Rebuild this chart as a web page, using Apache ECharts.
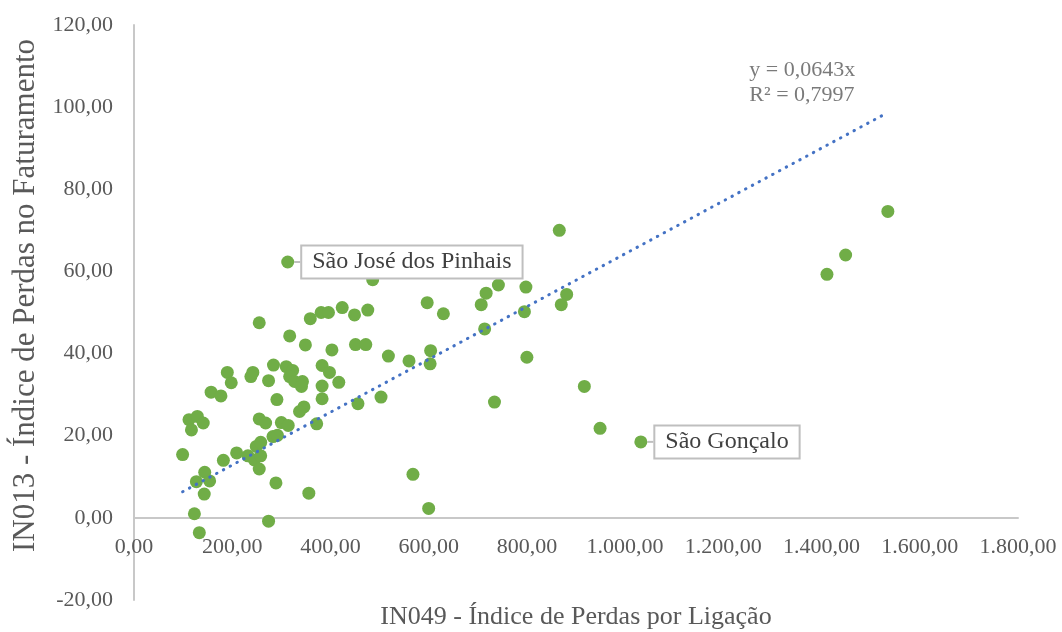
<!DOCTYPE html>
<html>
<head>
<meta charset="utf-8">
<script src="https://cdn.jsdelivr.net/npm/echarts@6/dist/echarts.min.js"></script>
<style>
html,body{margin:0;padding:0;background:#fff;}
#chart{width:1062px;height:632px;}
</style>
</head>
<body>
<div id="chart"></div>
<script>
// IN049 - Índice de Perdas por Ligação (x) vs IN013 - Índice de Perdas no Faturamento (y)
const xValues = [486,597,630,255,359,381,396,424,449,476,
  317,349,403,451,472,518,560,604,603,190,
  198,242,238,284,274,310,323,317,327,343,
  341,383,398,417,383,383,291,157,177,456,
  503,346,337,112,129,141,117,255,268,300,
  314,372,99,182,209,232,245,258,249,258,
  283,292,255,144,127,154,143,289,356,568,
  600,123,274,133,
  742,717,707,798,795,881,870,714,800,734,917,949,866,
  1535,1449,1411];
const yValues = [58.0,52.4,49.7,47.5,48.5,50.0,50.0,51.2,49.4,50.6,
  44.3,42.1,40.9,42.2,42.2,39.4,38.2,40.7,37.5,35.4,
  32.9,35.4,34.4,37.2,33.4,36.8,35.9,34.4,33.2,33.2,
  32.0,37.1,35.4,33.0,32.1,29.0,28.8,30.6,29.7,27.8,
  29.4,27.0,25.9,23.9,24.7,23.1,21.4,24.1,23.1,23.2,
  22.5,22.9,15.4,14.0,15.8,15.1,14.1,15.1,17.4,18.4,
  19.8,20.1,11.9,11.1,8.8,9.0,5.8,8.5,6.0,10.6,
  2.3,1.0,-0.8,-3.6,
  56.7,54.7,51.9,56.2,50.2,54.4,51.9,46.0,39.1,28.2,32.0,21.8,70.0,
  74.6,64.0,59.3];
// highlighted municipalities
const calloutNames = ['São José dos Pinhais', 'São Gonçalo'];
const calloutX = [313, 1032];
const calloutY = [62.3, 18.5];
// trendline (linear through origin)
const trendSlope = 0.0643;
const trendText = ['y = 0,0643x', 'R² = 0,7997'];
// axes
const xMin = 0, xMax = 1800, xStep = 200;
const yMin = -20, yMax = 120, yStep = 20;
const xTitle = 'IN049 - Índice de Perdas por Ligação';
const yTitle = 'IN013 - Índice de Perdas no Faturamento';

function fmtBR(v) {
  const neg = v < 0;
  const parts = Math.abs(v).toFixed(2).split('.');
  const intPart = parts[0].replace(/\B(?=(\d{3})+(?!\d))/g, '.');
  return (neg ? '-' : '') + intPart + ',' + parts[1];
}

const FONT = 'Liberation Serif';
const TXT = '#595959';
const W = 1062, H = 632;
const G = { left: 134, right: 44, top: 25, bottom: 32 };
const gridH = H - G.top - G.bottom;
// move the x axis (line, labels, title) up to the y = 0 level
const xAxisOffset = -gridH * (0 - yMin) / (yMax - yMin);

const scatterData = xValues.map((x, i) => [x, yValues[i]]);
calloutNames.forEach((n, i) => {
  scatterData.push({
    value: [calloutX[i], calloutY[i]],
    label: { show: true, formatter: n },
    labelLine: { show: true }
  });
});

const allX = xValues.concat(calloutX);
const tx0 = Math.min.apply(null, allX);
const tx1 = Math.max.apply(null, allX);
const trendData = [[tx0, trendSlope * tx0], [tx1, trendSlope * tx1]];

const chart = echarts.init(document.getElementById('chart'), null, { renderer: 'canvas' });
chart.setOption({
  backgroundColor: '#ffffff',
  animation: false,
  grid: { left: G.left, right: G.right, top: G.top, bottom: G.bottom, containLabel: false, outerBoundsMode: 'none' },
  xAxis: {
    type: 'value', min: xMin, max: xMax, interval: xStep,
    position: 'bottom', offset: xAxisOffset,
    name: xTitle, nameLocation: 'middle', nameGap: 86,
    nameTextStyle: { fontFamily: FONT, fontSize: 26, color: TXT },
    axisLine: { onZero: false, lineStyle: { color: '#c8c8c8', width: 2 } },
    axisTick: { show: false },
    splitLine: { show: false },
    axisLabel: { formatter: fmtBR, fontFamily: FONT, fontSize: 22, color: TXT, margin: 18 }
  },
  yAxis: {
    type: 'value', min: yMin, max: yMax, interval: yStep,
    name: yTitle, nameLocation: 'middle', nameGap: 90,
    nameTextStyle: { fontFamily: FONT, fontSize: 31, color: TXT, padding: [0, 0, 0, 34] },
    axisLine: { show: true, onZero: false, lineStyle: { color: '#c8c8c8', width: 2 } },
    axisTick: { show: false },
    splitLine: { show: false },
    axisLabel: { formatter: fmtBR, fontFamily: FONT, fontSize: 22, color: TXT, margin: 21 }
  },
  series: [
    {
      type: 'scatter',
      data: scatterData,
      symbol: 'circle',
      symbolSize: 13,
      itemStyle: { color: '#70AD47', opacity: 1 },
      label: {
        show: false,
        position: 'right',
        distance: 0,
        fontFamily: FONT,
        fontSize: 24,
        color: '#404040',
        backgroundColor: '#ffffff',
        borderColor: '#bfbfbf',
        borderWidth: 2,
        padding: [4, 10, 3, 10]
      },
      labelLayout: { dx: 8 },
      labelLine: { show: false, lineStyle: { color: '#bfbfbf', width: 2 } },
      z: 2
    },
    {
      type: 'line',
      data: trendData,
      symbol: 'none',
      lineStyle: { color: '#4472C4', width: 3, type: [0.5, 7.2], cap: 'round' },
      z: 3,
      silent: true
    },
    {
      type: 'scatter',
      data: [trendData[1]],
      symbolSize: 1,
      itemStyle: { color: 'rgba(0,0,0,0)' },
      label: {
        show: true,
        position: [-138, -54],
        align: 'left',
        verticalAlign: 'top',
        formatter: trendText.join('\n'),
        fontFamily: FONT,
        fontSize: 22,
        lineHeight: 25,
        color: TXT
      },
      z: 4
    }
  ]
});
</script>
</body>
</html>
